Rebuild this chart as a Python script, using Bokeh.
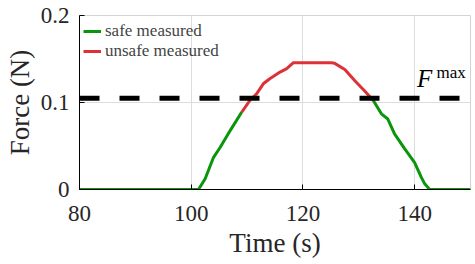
from bokeh.plotting import figure
from bokeh.models import FixedTicker, Span, Label, Legend, LegendItem
from bokeh.embed import file_html
from bokeh.resources import INLINE

# data
t_safe_a = [80, 101.3, 102.5, 104.0, 105.2, 107.0, 109.05]
f_safe_a = [0.0, 0.0, 0.0123, 0.037, 0.0486, 0.068, 0.089]

t_unsafe = [109.05, 110.5, 111.7, 112.9, 114.0, 115.9, 117.1, 118.3, 122.0, 125.1, 125.7,
            127.5, 129.3, 131.1, 132.6]
f_unsafe = [0.089, 0.1023, 0.110, 0.1215, 0.127, 0.135, 0.139, 0.1458, 0.1457, 0.1456, 0.145,
            0.138, 0.125, 0.113, 0.1023]

t_safe_b = [132.6, 134.05, 135.2, 136.4, 138.2, 140.0, 141.2, 141.8, 142.7, 150]
f_safe_b = [0.1023, 0.087, 0.081, 0.064, 0.047, 0.031, 0.014, 0.0065, 0.0, 0.0]

f_max = 0.105
x_ticks = [80, 100, 120, 140]
y_ticks = [0, 0.1, 0.2]
y_tick_labels = {0: "0", 0.1: "0.1", 0.2: "0.2"}

GREEN = "#0a960a"
RED = "#dc3237"
FONT = "Liberation Serif"

p = figure(width=475, height=262, x_range=(80, 150), y_range=(0, 0.2),
           output_backend="svg", toolbar_location=None,
           min_border_left=79, min_border_right=5, min_border_top=15, min_border_bottom=73)
p.background_fill_color = "white"
p.border_fill_color = "white"
p.outline_line_color = "#d4d4d4"
p.outline_line_width = 1

l1 = p.line(t_safe_a, f_safe_a, line_color=GREEN, line_width=3)
p.line(t_safe_b, f_safe_b, line_color=GREEN, line_width=3)
l2 = p.line(t_unsafe, f_unsafe, line_color=RED, line_width=3)

p.add_layout(Span(location=f_max, dimension="width", line_color="black",
                  line_width=5, line_dash="20 20"))

p.add_layout(Label(x=140.4, y=0.1275, text="F", text_font=FONT, text_font_style="italic",
                   text_font_size="25px", text_baseline="alphabetic", text_color="black"))
p.add_layout(Label(x=143.9, y=0.1345, text="max", text_font=FONT,
                   text_font_size="17px", text_baseline="alphabetic", text_color="black"))

for ax in (p.xaxis, p.yaxis):
    ax.axis_line_color = "black"
    ax.axis_line_width = 1
    ax.major_tick_in = 5
    ax.major_tick_out = 0
    ax.minor_tick_line_color = None
    ax.major_tick_line_color = "black"
    ax.major_label_text_font = FONT
    ax.major_label_text_font_size = "23px"
    ax.major_label_text_color = "#262626"
    ax.axis_label_text_font = FONT
    ax.axis_label_text_font_size = "27px"
    ax.axis_label_text_font_style = "normal"
    ax.axis_label_text_color = "#262626"

p.xaxis.ticker = FixedTicker(ticks=x_ticks)
p.yaxis.ticker = FixedTicker(ticks=y_ticks)
p.yaxis.major_label_overrides = y_tick_labels
p.xaxis.axis_label = "Time (s)"
p.yaxis.axis_label = "Force (N)"
p.xaxis.major_label_standoff = 16
p.yaxis.major_label_standoff = 10
p.xaxis.axis_label_standoff = 4
p.yaxis.axis_label_standoff = 3

p.xgrid.ticker = FixedTicker(ticks=x_ticks)
p.ygrid.ticker = FixedTicker(ticks=y_ticks)
p.grid.grid_line_color = "#dcdcdc"
p.grid.grid_line_width = 1

legend = Legend(items=[LegendItem(label="safe measured", renderers=[l1]),
                       LegendItem(label="unsafe measured", renderers=[l2])],
                location=(4, 128), border_line_color=None, background_fill_alpha=0,
                label_text_font=FONT, label_text_font_size="17px",
                glyph_width=18, glyph_height=20, label_height=20, label_standoff=4,
                spacing=0, padding=5, margin=0)
p.add_layout(legend)

open("out.html", "w").write(file_html(p, INLINE))
